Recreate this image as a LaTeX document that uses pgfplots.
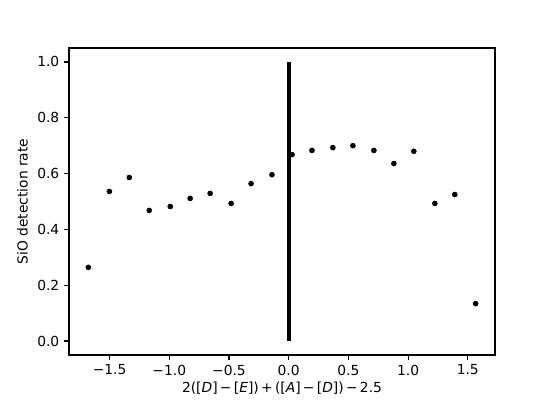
\documentclass[border=0pt]{standalone}
\usepackage{fontspec}
\setmainfont{DejaVu Sans}
\usepackage{pgfplots}
\pgfplotsset{compat=1.18}

\begin{document}
\begin{tikzpicture}
\useasboundingbox (-0.69in,-0.45in) rectangle (4.81in,3.55in);
\begin{axis}[
  at={(0,0)}, anchor=south west,
  scale only axis, width=4.26in, height=3.07in,
  xmin=-1.84, xmax=1.728, ymin=-0.05, ymax=1.05,
  xtick={-1.5,-1,-0.5,0,0.5,1,1.5},
  xticklabels={−1.5,−1.0,−0.5,0.0,0.5,1.0,1.5},
  ytick={0,0.2,0.4,0.6,0.8,1.0},
  yticklabels={0.0,0.2,0.4,0.6,0.8,1.0},
  tick align=outside, tick pos=left,
  major tick length=3.5pt,
  every tick/.style={black, line width=0.8pt},
  axis line style={line width=0.8pt},
  tick label style={font=\fontsize{10}{12}\selectfont},
  label style={font=\fontsize{10}{12}\selectfont},
  xlabel={2([\textit{D}]\,−\,[\textit{E}])\,+\,([\textit{A}]\,−\,[\textit{D}])\,−\,2.5},
  ylabel={SiO detection rate},
  xlabel style={yshift=2pt},
  ylabel style={yshift=0pt},
]
\addplot[black, line width=2.9pt, line cap=butt] coordinates {(0,0) (0,1)};
\addplot[only marks, mark=*, mark size=1.8pt, black,
  error bars/.cd, y dir=both, y explicit, error bar style={line width=1pt}, error mark=none]
  coordinates {
  (-1.678,0.264) +- (0,0.008)
  (-1.502,0.536) +- (0,0.005)
  (-1.335,0.586) +- (0,0.003)
  (-1.168,0.468) +- (0,0.002)
  (-0.992,0.482) +- (0,0.002)
  (-0.825,0.511) +- (0,0.002)
  (-0.658,0.529) +- (0,0.002)
  (-0.482,0.493) +- (0,0.002)
  (-0.315,0.564) +- (0,0.002)
  (-0.140,0.596) +- (0,0.002)
  (0.028,0.668) +- (0,0.002)
  (0.195,0.683) +- (0,0.002)
  (0.370,0.693) +- (0,0.002)
  (0.538,0.700) +- (0,0.002)
  (0.714,0.683) +- (0,0.002)
  (0.881,0.636) +- (0,0.002)
  (1.048,0.680) +- (0,0.002)
  (1.224,0.493) +- (0,0.003)
  (1.391,0.525) +- (0,0.005)
  (1.566,0.134) +- (0,0.005)
  };
\end{axis}
\end{tikzpicture}
\end{document}
